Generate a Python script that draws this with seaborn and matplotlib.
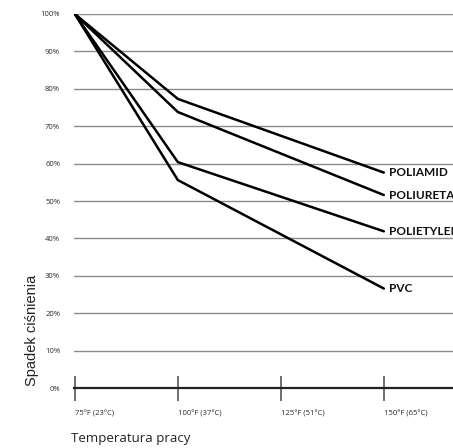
import pandas as pd
import matplotlib.pyplot as plt
import seaborn as sns

# ── Data ──────────────────────────────────────────────────────────────────────
temps_f     = [75, 100, 150]
materials   = ["POLIAMID", "POLIURETAN", "POLIETYLEN", "PVC"]
poliamid    = [100, 77.3, 57.6]
poliuretan  = [100, 73.8, 51.6]
polietylen  = [100, 60.4, 41.9]
pvc         = [100, 55.6, 26.6]
tick_f      = [75, 100, 125, 150]
tick_labels = ["75°F (23°C)", "100°F (37°C)", "125°F (51°C)", "150°F (65°C)"]
y_ticks     = list(range(0, 101, 10))

rows = []
for name, vals in zip(materials, [poliamid, poliuretan, polietylen, pvc]):
    for t, v in zip(temps_f, vals):
        rows.append({"temp": t, "spadek": v, "material": name})
df = pd.DataFrame(rows)

sns.set_theme(style="white")
plt.rcParams["font.family"] = ["Open Sans", "DejaVu Sans"]

fig = plt.figure(figsize=(4.53, 4.48), dpi=100)
ax = fig.add_axes([74 / 453, 60 / 448, 1 - 74 / 453, 374 / 448])

# gridlines
for y in y_ticks[1:]:
    ax.axhline(y, color="#8a8a8a", lw=1.0, zorder=1)

sns.lineplot(data=df, x="temp", y="spadek", hue="material",
             palette={m: "black" for m in materials},
             linewidth=1.8, legend=False, ax=ax, zorder=3)

# end labels (cut off by the right edge, as in the original)
for name, vals in zip(materials, [poliamid, poliuretan, polietylen, pvc]):
    ax.text(151.3, vals[-1], name, ha="left", va="center",
            fontsize=8.5, fontweight="bold", family=["Lato", "DejaVu Sans"],
            color="#111111", clip_on=False)

ax.set_xlim(74.8, 166.8)
ax.set_ylim(0, 100)
for s in ["top", "right", "left"]:
    ax.spines[s].set_visible(False)
ax.spines["bottom"].set_color("#222222")
ax.spines["bottom"].set_linewidth(1.6)

ax.set_xticks(tick_f)
ax.set_xticklabels(tick_labels, fontsize=5.5, color="#2a2a2a")
ax.tick_params(axis="x", bottom=True, direction="inout", length=18,
               width=1.2, color="#555555", pad=7)
for lbl in ax.get_xticklabels():
    lbl.set_horizontalalignment("left")
ax.set_yticks(y_ticks)
ax.set_yticklabels([f"{v}%" for v in y_ticks], fontsize=5.5, color="#2a2a2a")
ax.tick_params(axis="y", left=False, length=0, pad=10)

ax.set_xlabel("")
ax.set_ylabel("")
fig.text(71 / 453, 1 - 438 / 448, "Temperatura pracy", fontsize=9.5,
         ha="left", va="center", color="#222222")
fig.text(32 / 453, 1 - 330 / 448, "Spadek ciśnienia", fontsize=10.5,
         family=["Liberation Sans", "DejaVu Sans"],
         rotation=90, ha="center", va="center", color="#222222")

fig.savefig("out.png", dpi=100)
